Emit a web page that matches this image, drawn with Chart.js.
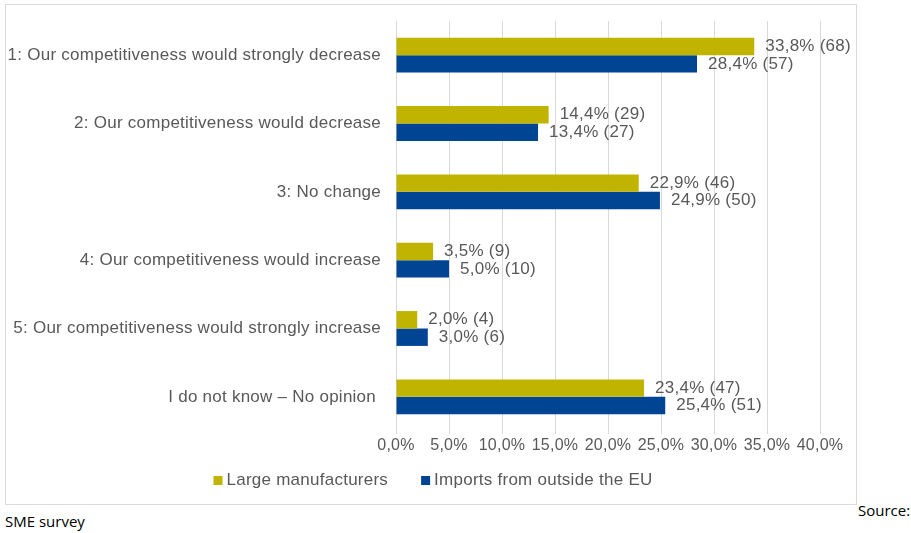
<!DOCTYPE html>
<html>
<head>
    <script src="https://cdn.jsdelivr.net/npm/chart.js@4.4.1/dist/chart.umd.min.js"></script>
    <style>
        body {
            margin: 0;
            background: #ffffff;
        }

        #chartBox {
            position: absolute;
            left: 5px;
            top: 4px;
            width: 852px;
            height: 501px;
            border: 1px solid #d9d9d9;
            box-sizing: border-box;
        }

        .note {
            position: absolute;
            font-family: "Open Sans", sans-serif;
            font-size: 15px;
            line-height: 15px;
            color: #000000;
            white-space: nowrap;
        }
    </style>
</head>
<body>
<div id="chartBox">
    <canvas id="myChart"></canvas>
</div>
<div class="note" style="left: 858px; top: 503px;">Source:</div>
<div class="note" style="left: 5px; top: 514px;">SME survey</div>

<script>
    const answers = [
        '1: Our competitiveness would strongly decrease',
        '2: Our competitiveness would decrease',
        '3: No change',
        '4: Our competitiveness would increase',
        '5: Our competitiveness would strongly increase',
        'I do not know \u2013 No opinion '
    ];

    // share of respondents (%) and number of respondents per answer
    const largeShare = [33.8, 14.4, 22.9, 3.5, 2.0, 23.4];
    const largeCounts = [68, 29, 46, 9, 4, 47];
    const importShare = [28.4, 13.4, 24.9, 5.0, 3.0, 25.4];
    const importCounts = [57, 27, 50, 10, 6, 51];

    const xTicks = [0, 5, 10, 15, 20, 25, 30, 35, 40];

    const textGrey = '#595959';
    const fontFamily = '"Liberation Sans", Arial, sans-serif';

    function pct(v) {
        return v.toFixed(1).replace('.', ',') + '%';
    }

    // Excel draws its text a little wider than the canvas does
    const spacing = {
        id: 'spacing',
        beforeUpdate(chart) { chart.ctx.letterSpacing = '0.25px'; },
        beforeDraw(chart) { chart.ctx.letterSpacing = '0.25px'; }
    };

    // "33,8% (68)" next to the end of each bar
    const barLabels = {
        id: 'barLabels',
        afterDatasetsDraw(chart) {
            const ctx = chart.ctx;
            ctx.save();
            ctx.font = '17px ' + fontFamily;
            ctx.fillStyle = textGrey;
            ctx.textAlign = 'left';
            ctx.textBaseline = 'middle';
            chart.data.datasets.forEach((ds, i) => {
                chart.getDatasetMeta(i).data.forEach((bar, j) => {
                    ctx.fillText(pct(ds.data[j]) + ' (' + ds.counts[j] + ')', bar.x + 11, bar.y);
                });
            });
            ctx.restore();
        }
    };

    // small square + name for each series, in one row under the axis
    const bottomLegend = {
        id: 'bottomLegend',
        afterDraw(chart) {
            const ctx = chart.ctx;
            const box = 9, gap = 4, between = 33;
            const baseline = 480;
            ctx.save();
            ctx.font = '17px ' + fontFamily;
            ctx.textAlign = 'left';
            ctx.textBaseline = 'alphabetic';
            const items = chart.data.datasets.map(ds => ({
                text: ds.label,
                color: ds.backgroundColor,
                width: box + gap + ctx.measureText(ds.label).width
            }));
            const total = items.reduce((s, it) => s + it.width, 0) + between * (items.length - 1);
            let x = chart.width / 2 + 2 - total / 2;
            items.forEach(it => {
                ctx.fillStyle = it.color;
                ctx.fillRect(x, baseline - box, box, box);
                ctx.fillStyle = textGrey;
                ctx.fillText(it.text, x + box + gap, baseline);
                x += it.width + between;
            });
            ctx.restore();
        }
    };

    const ctx = document.getElementById('myChart').getContext('2d');
    const myChart = new Chart(ctx, {
        type: 'bar',
        data: {
            labels: answers,
            datasets: [
                {
                    label: 'Large manufacturers',
                    data: largeShare,
                    counts: largeCounts,
                    backgroundColor: '#c0b400'
                },
                {
                    label: 'Imports from outside the EU',
                    data: importShare,
                    counts: importCounts,
                    backgroundColor: '#004494'
                }
            ]
        },
        options: {
            indexAxis: 'y',
            responsive: true,
            maintainAspectRatio: false,
            animation: false,
            categoryPercentage: 0.51,
            barPercentage: 1.0,
            layout: {
                padding: {left: 0, right: 36, top: 16, bottom: 45}
            },
            plugins: {
                legend: {display: false},
                tooltip: {enabled: false}
            },
            scales: {
                x: {
                    min: 0,
                    max: 40,
                    afterBuildTicks(scale) {
                        scale.ticks = xTicks.map(v => ({value: v}));
                    },
                    afterFit(scale) {
                        scale.height = 28;
                        scale.paddingLeft = 0;
                        scale.paddingRight = 0;
                    },
                    grid: {
                        color: '#d9d9d9',
                        tickLength: 3
                    },
                    border: {display: false},
                    ticks: {
                        padding: 2,
                        color: textGrey,
                        font: {family: fontFamily, size: 16},
                        maxRotation: 0,
                        autoSkip: false,
                        callback: v => pct(v)
                    }
                },
                y: {
                    afterFit(scale) {
                        scale.width = 390;
                        scale.paddingTop = 0;
                        scale.paddingBottom = 0;
                    },
                    grid: {display: false, drawTicks: false},
                    border: {display: false},
                    ticks: {
                        padding: 15,
                        color: textGrey,
                        font: {family: fontFamily, size: 17}
                    }
                }
            }
        },
        plugins: [spacing, barLabels, bottomLegend]
    });
</script>

</body>
</html>
